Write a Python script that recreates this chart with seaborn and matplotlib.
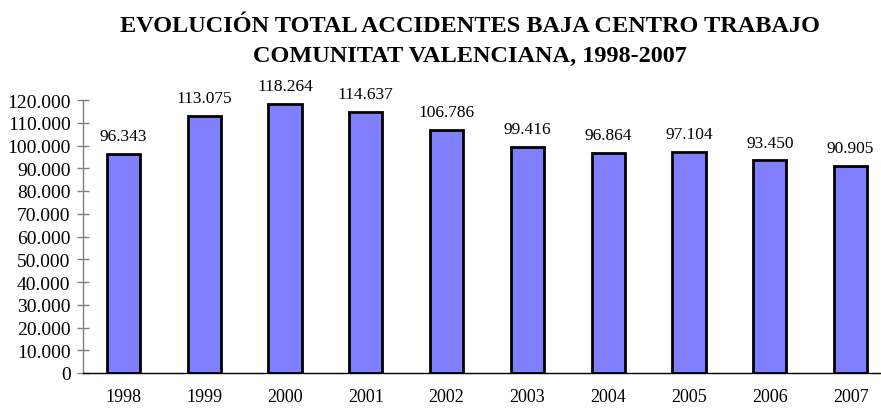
import numpy as np
import pandas as pd
import seaborn as sns
import matplotlib.pyplot as plt
import matplotlib.ticker as mticker

# Data
years = ['1998', '1999', '2000', '2001', '2002', '2003', '2004', '2005', '2006', '2007']
accidents = [96343, 113075, 118264, 114637, 106786, 99416, 96864, 97104, 93450, 90905]

df = pd.DataFrame({'year': years, 'total': accidents})

def fmt_es(v):
    return f'{v:,.0f}'.replace(',', '.')

sns.set_style("white")
plt.rcParams['font.family'] = ['Liberation Serif', 'DejaVu Serif']
plt.rcParams.update({'text.color': 'black', 'xtick.color': 'black',
                     'ytick.color': 'black', 'axes.labelcolor': 'black'})

fig = plt.figure(figsize=(8.81, 4.10), dpi=100)
ax = fig.add_axes([83 / 881, 36 / 410, 808 / 881, 273 / 410])

sns.barplot(data=df, x='year', y='total', color='#8080FF', saturation=1,
            edgecolor='black', linewidth=2, width=0.41, ax=ax)

for i, v in enumerate(accidents):
    ax.annotate(fmt_es(v), (i, v), xytext=(0, 7), textcoords='offset points',
                ha='center', va='bottom', fontsize=12.5)

ax.set_xlim(-0.5, len(years) - 0.5)
ax.set_ylim(0, 120000)
ax.yaxis.set_major_locator(mticker.MultipleLocator(10000))
ax.yaxis.set_major_formatter(mticker.FuncFormatter(lambda x, _: fmt_es(x)))

# ticks between categories on x
ax.set_xticks(np.arange(len(years)))
ax.set_xticklabels(years)
ax.xaxis.set_minor_locator(mticker.FixedLocator(np.arange(-0.5, len(years), 1)))
ax.tick_params(axis='x', which='major', length=0, pad=11, labelsize=13, labelcolor='black')
ax.tick_params(axis='x', which='minor', direction='inout', length=9, width=1, color='black')
ax.tick_params(axis='y', direction='inout', length=9, width=1, color='#808080',
               pad=4.5, labelsize=14, left=True, labelcolor='black')

ax.set_xlabel('')
ax.set_ylabel('')

for s in ['top', 'right']:
    ax.spines[s].set_visible(False)
ax.spines['left'].set_color('#808080')
ax.spines['left'].set_linewidth(1)
ax.spines['bottom'].set_color('black')
ax.spines['bottom'].set_linewidth(1)

fig.text(470 / 881, 1 - 26 / 410, 'EVOLUCIÓN TOTAL ACCIDENTES BAJA CENTRO TRABAJO',
         ha='center', va='center', fontsize=17.5, fontweight='bold', color='black')
fig.text(470 / 881, 1 - 56 / 410, 'COMUNITAT VALENCIANA, 1998-2007',
         ha='center', va='center', fontsize=17.5, fontweight='bold', color='black')

fig.savefig('out.png', dpi=100)
